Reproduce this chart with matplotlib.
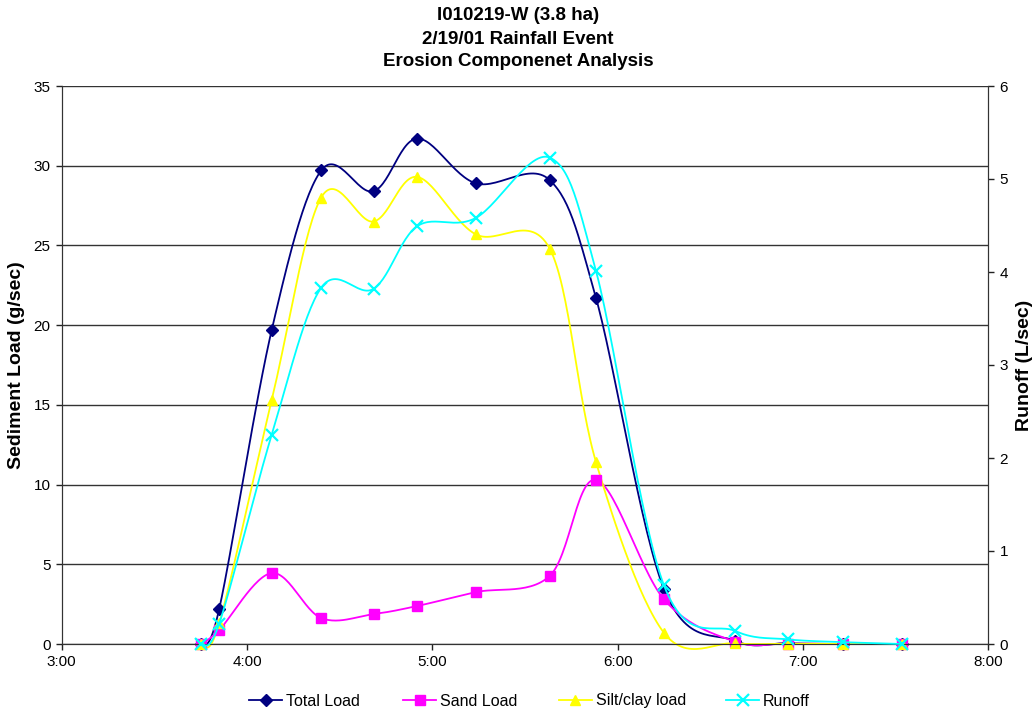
import matplotlib
matplotlib.use("Agg")
import matplotlib.pyplot as plt
from matplotlib.lines import Line2D
import numpy as np

plt.rcParams['font.family'] = ['Liberation Sans', 'DejaVu Sans']

# sample times (h:mm) and measured values
times = ["3:45", "3:51", "4:08", "4:24", "4:41", "4:55", "5:14",
         "5:38", "5:53", "6:15", "6:38", "6:55", "7:13", "7:32"]
total_load = [0.0, 2.2, 19.7, 29.7, 28.4, 31.7, 28.9, 29.1, 21.7, 3.45, 0.2, 0.05, 0.0, 0.0]
sand_load = [0.0, 0.88, 4.45, 1.63, 1.88, 2.38, 3.25, 4.27, 10.3, 2.8, 0.15, 0.03, 0.0, 0.0]
silt_load = [0.0, 1.3, 15.3, 28.0, 26.5, 29.3, 25.7, 24.8, 11.4, 0.7, 0.05, 0.02, 0.0, 0.0]
runoff = [0.0, 0.22, 2.25, 3.83, 3.82, 4.49, 4.58, 5.23, 4.01, 0.63, 0.14, 0.05, 0.02, 0.0]

xtick_labels = ["3:00", "4:00", "5:00", "6:00", "7:00", "8:00"]


def to_hours(t):
    h, m = t.split(":")
    return int(h) + int(m) / 60.0


def smooth(x, y, n=30):
    # excel-style smoothed line (bezier with catmull-rom control points)
    p = np.column_stack([x, y]).astype(float)
    p = np.vstack([p[0], p, p[-1]])
    out = []
    t = np.linspace(0, 1, n)[:, None]
    for i in range(1, len(p) - 2):
        b0 = p[i]
        b1 = p[i] + (p[i + 1] - p[i - 1]) / 6.0
        b2 = p[i + 1] - (p[i + 2] - p[i]) / 6.0
        b3 = p[i + 1]
        seg = (1 - t) ** 3 * b0 + 3 * (1 - t) ** 2 * t * b1 + 3 * (1 - t) * t ** 2 * b2 + t ** 3 * b3
        out.append(seg if i == 1 else seg[1:])
    out = np.vstack(out)
    return out[:, 0], out[:, 1]


x = np.array([to_hours(t) for t in times])

W, H = 1036, 713
fig = plt.figure(figsize=(W / 100, H / 100), dpi=100)
ax = fig.add_axes([61.7 / W, 69 / H, 926.6 / W, 558 / H])
ax2 = ax.twinx()

series = [
    (ax, total_load, '#000080', 'D', 6, 'Total Load'),
    (ax, sand_load, '#FF00FF', 's', 7, 'Sand Load'),
    (ax, silt_load, '#FFFF00', '^', 7.5, 'Silt/clay load'),
    (ax2, runoff, '#00FFFF', 'x', 8, 'Runoff'),
]

for a, vals, col, mk, ms, lab in series:
    sx, sy = smooth(x, vals)
    a.plot(sx, sy, color=col, lw=1.3, zorder=3, clip_on=False)
    a.plot(x, vals, ls='none', marker=mk, ms=ms, color=col, mec=col, mew=1.6 if mk == 'x' else 1,
           zorder=4, clip_on=False)

ax.set_xlim(3, 8)
ax.set_xticks(range(3, 9))
ax.set_xticklabels(xtick_labels)
ax.set_ylim(0, 35)
ax.set_yticks(range(0, 36, 5))
ax2.set_ylim(0, 6)
ax2.set_yticks(range(0, 7))

ax.yaxis.grid(True, color='#333333', lw=1)
ax.set_axisbelow(True)

for a in (ax, ax2):
    a.tick_params(direction='out', length=4, width=1, labelsize=11, color='#222222', pad=4)
    for s in a.spines.values():
        s.set_color('#333333')
    a.spines['top'].set_visible(False)

ax.set_ylabel('Sediment Load (g/sec)', fontsize=14, fontweight='bold', labelpad=6)
ax2.set_ylabel('Runoff (L/sec)', fontsize=14, fontweight='bold', labelpad=6)

fig.text(0.5, 1 - 16 / H, 'I010219-W (3.8 ha)', ha='center', va='center', fontsize=13.5, fontweight='bold')
fig.text(0.5, 1 - 39 / H, '2/19/01 Rainfall Event', ha='center', va='center', fontsize=13.5, fontweight='bold')
fig.text(0.5, 1 - 62 / H, 'Erosion Componenet Analysis', ha='center', va='center', fontsize=13.5, fontweight='bold')

# legend row drawn by hand so every label sits on the same baseline
legend_left = [249, 403, 559, 726]
ly = 1 - 700 / H
for (a, vals, col, mk, ms, lab), lx in zip(series, legend_left):
    x0, x1 = lx / W, (lx + 33) / W
    fig.add_artist(Line2D([x0, x1], [ly, ly], color=col, lw=1.3, transform=fig.transFigure))
    fig.add_artist(Line2D([(x0 + x1) / 2], [ly], ls='none', marker=mk, ms=ms, color=col, mec=col,
                          mew=1.6 if mk == 'x' else 1, transform=fig.transFigure))
    fig.text((lx + 37) / W, 1 - 705.5 / H, lab, ha='left', va='baseline', fontsize=11.5)

fig.savefig('out.png', dpi=100)
